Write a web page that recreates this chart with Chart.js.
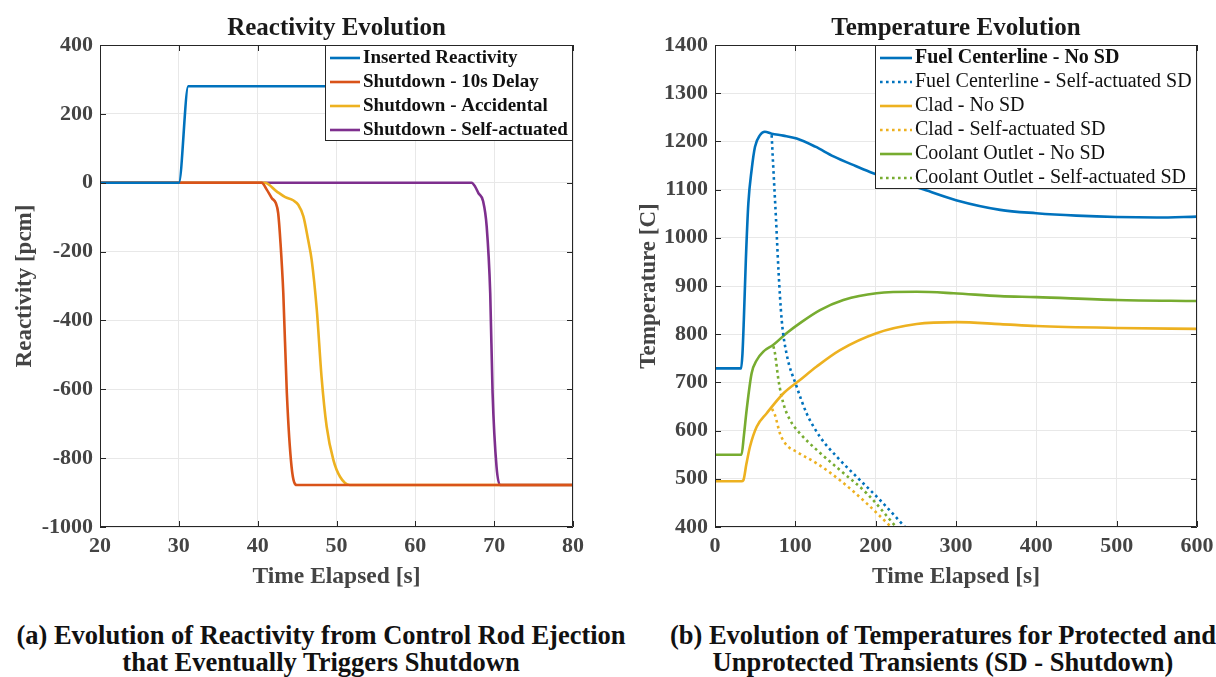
<!DOCTYPE html>
<html>
<head>
<meta charset="utf-8">
<script src="https://cdn.jsdelivr.net/npm/chart.js@4.4.0/dist/chart.umd.min.js"></script>
<style>
  body { margin: 0; width: 1216px; height: 677px; overflow: hidden; background: #fff; position: relative; font-family: "Liberation Serif", serif; }
  #reactivity { position: absolute; left: 0; top: 0; }
  #temperature { position: absolute; left: 608px; top: 0; }
  .caption { position: absolute; font-weight: bold; font-size: 26.5px; line-height: 27px; color: #111; text-align: center; white-space: nowrap; }
</style>
</head>
<body>
<canvas id="reactivity" width="608" height="597"></canvas>
<canvas id="temperature" width="608" height="597"></canvas>
<div class="caption" style="left:-79px; width:800px; top:622px">(a) Evolution of Reactivity from Control Rod Ejection<br>that Eventually Triggers Shutdown</div>
<div class="caption" style="left:543px; width:800px; top:622px">(b) Evolution of Temperatures for Protected and<br>Unprotected Transients (SD - Shutdown)</div>
<script>
// --- reactivity plot (a) ---
const insertedTime = [20, 30, 31.2, 80];
const insertedValue = [0, 0, 280, 280];
const delayTime = [20, 40.5, 41.15, 41.8, 42.3, 42.6, 42.9, 43.25, 43.7, 44.3, 44.95, 80];
const delayValue = [0, 0, -20, -45, -59, -88, -176, -320, -611, -825, -878, -878];
const accidentalTime = [20, 40.9, 42.4, 43.5, 44.5, 45.15, 45.8, 46.4, 46.85, 47.5, 48.1, 48.75, 49.6, 50.45, 51.7, 80];
const accidentalValue = [0, 0, -25, -42, -51, -64, -98, -166, -224, -369, -563, -708, -805, -854, -878, -878];
const selfTime = [20, 67.15, 67.6, 68.0, 68.6, 69.05, 69.5, 69.8, 70.3, 70.75, 80];
const selfValue = [0, 0, -12, -30, -54, -127, -321, -611, -825, -878, -878];
const reactivityTicks = [-1000, -800, -600, -400, -200, 0, 200, 400];

// --- temperature plot (b) ---
const fuelTime = [0, 32.5, 34.2, 35.9, 38.4, 41.5, 45.6, 49.8, 56, 62, 70.5, 85, 101.7, 125, 147.5, 175, 197, 230, 260, 300, 355, 400, 450, 500, 550, 600];
const fuelValue = [729, 729, 760, 830, 954, 1071, 1141, 1189, 1213, 1220, 1216, 1212, 1206, 1189, 1169, 1149, 1134, 1116, 1100, 1078, 1058, 1051, 1046, 1043, 1042, 1044];
const fuelSdTime = [70.5, 72.7, 76, 79, 83, 89, 101.7, 114, 130.7, 151.5, 176.4, 205.4, 236.5];
const fuelSdValue = [1213, 1141, 1037, 933, 830, 760, 691, 636, 587, 546, 504, 456, 400];
const cladTime = [0, 33, 35.3, 39, 43.6, 51.9, 64.4, 85, 105.8, 126.6, 155.6, 201, 251, 301, 355, 400, 500, 600];
const cladValue = [495, 495, 497, 530, 567, 608, 636, 677, 705, 733, 767, 802, 821, 825, 821, 817, 813, 811];
const cladSdTime = [71, 74.7, 80.9, 89, 101.7, 126.6, 155.6, 188.8, 218.6];
const cladSdValue = [645, 632, 594, 570, 556, 532, 497, 449, 401];
const coolantTime = [0, 33, 36, 39.4, 45.6, 51.9, 60.2, 72.7, 89, 105.8, 130.7, 159.8, 201, 251, 297, 355, 400, 500, 600];
const coolantValue = [550, 550, 590, 643, 719, 746, 764, 778, 802, 823, 850, 871, 885, 888, 885, 879, 877, 871, 869];
const coolantSdTime = [72.7, 74.7, 79, 85, 93.4, 105.8, 126.6, 155.6, 188.8, 225];
const coolantSdValue = [775, 760, 705, 657, 622, 594, 560, 518, 470, 401];

const BLUE = '#0072BD', ORANGE = '#D95319', YELLOW = '#EDB120', PURPLE = '#7E2F8E', GREEN = '#77AC30';
const AXIS = '#262626', TEXT = '#444';
const FONT = '"Liberation Serif", "Times New Roman", serif';

function pts(t, v) { return t.map((x, i) => ({x: x, y: v[i]})); }

function series(label, t, v, color, dotted) {
  return {
    label: label, data: pts(t, v), borderColor: color, backgroundColor: color,
    borderWidth: 2.6, pointRadius: 0, cubicInterpolationMode: 'monotone',
    borderDash: dotted ? [2.6, 3.4] : [], dotted: !!dotted
  };
}

// draws the boxed axes with inward ticks and the legend inside the top right corner
const framePlugin = {
  id: 'frame',
  afterDatasetsDraw(chart, args, opts) {
    const {ctx, chartArea: a, scales: {x, y}} = chart;
    ctx.save();
    ctx.strokeStyle = AXIS;
    ctx.lineWidth = 1;
    ctx.beginPath();
    ctx.rect(a.left + 0.5, a.top + 0.5, a.right - a.left - 1, a.bottom - a.top - 1);
    x.ticks.forEach(tk => {
      const px = Math.round(x.getPixelForValue(tk.value)) + 0.5;
      ctx.moveTo(px, a.bottom); ctx.lineTo(px, a.bottom - 6);
      ctx.moveTo(px, a.top); ctx.lineTo(px, a.top + 6);
    });
    y.ticks.forEach(tk => {
      const py = Math.round(y.getPixelForValue(tk.value)) + 0.5;
      ctx.moveTo(a.left, py); ctx.lineTo(a.left + 6, py);
      ctx.moveTo(a.right, py); ctx.lineTo(a.right - 6, py);
    });
    ctx.stroke();

    // legend
    const sets = chart.data.datasets;
    const rowH = 24;
    const bx = a.right - opts.width, by = a.top;
    const bh = sets.length * rowH;
    ctx.fillStyle = '#fff';
    ctx.fillRect(bx, by, opts.width, bh);
    ctx.strokeStyle = AXIS;
    ctx.strokeRect(bx + 0.5, by + 0.5, opts.width - 1, bh - 1);
    ctx.textBaseline = 'middle';
    sets.forEach((ds, i) => {
      const cy = by + rowH / 2 + i * rowH + 1;
      ctx.strokeStyle = ds.borderColor;
      ctx.lineWidth = 2.6;
      ctx.setLineDash(ds.dotted ? [2.6, 3.4] : []);
      ctx.beginPath();
      ctx.moveTo(bx + 5, cy); ctx.lineTo(bx + 5 + opts.sample, cy);
      ctx.stroke();
      ctx.setLineDash([]);
      ctx.fillStyle = '#111';
      ctx.font = ((opts.bold || []).includes(i) ? 'bold ' : '') + opts.fontSize + 'px ' + FONT;
      ctx.fillText(ds.label, bx + 8 + opts.sample, cy);
    });
    ctx.restore();
  }
};

function makeOptions(cfg) {
  return {
    responsive: false, animation: false, devicePixelRatio: 1,
    layout: {padding: {left: 0, right: cfg.padRight, top: 0, bottom: 0}},
    plugins: {
      legend: {display: false},
      tooltip: {enabled: false},
      title: {display: true, fullSize: false, text: cfg.title, color: '#1a1a1a', font: {family: FONT, size: 25, weight: 'bold'}, padding: {top: 14, bottom: 1}},
      frame: cfg.legend
    },
    scales: {
      x: {
        type: 'linear', min: cfg.xMin, max: cfg.xMax,
        ticks: {stepSize: cfg.xStep, color: TEXT, padding: 6, font: {family: FONT, size: 22, weight: 'bold'}, callback: v => String(v)},
        grid: {color: '#e8e8e8', drawTicks: false},
        border: {display: false},
        title: {display: true, text: 'Time Elapsed [s]', color: TEXT, font: {family: FONT, size: 23.5, weight: 'bold'}, padding: {top: 0, bottom: 6}},
        afterFit: s => { s.height = 70; s.paddingLeft = 0; s.paddingRight = 0; }
      },
      y: {
        type: 'linear', min: cfg.yMin, max: cfg.yMax,
        afterBuildTicks: cfg.yTicks ? (s => { s.ticks = cfg.yTicks.map(v => ({value: v})); }) : undefined,
        ticks: {stepSize: cfg.yStep, color: TEXT, padding: 7, font: {family: FONT, size: 22, weight: 'bold'}, callback: v => String(v)},
        grid: {color: '#e8e8e8', drawTicks: false},
        border: {display: false},
        title: {display: true, text: cfg.yTitle, color: TEXT, font: {family: FONT, size: 23, weight: 'bold'}, padding: {top: cfg.yTitlePad, bottom: 0}},
        afterFit: s => { s.width = cfg.yWidth; }
      }
    }
  };
}

new Chart(document.getElementById('reactivity'), {
  type: 'line',
  data: {datasets: [
    series('Inserted Reactivity', insertedTime, insertedValue, BLUE),
    series('Shutdown - 10s Delay', delayTime, delayValue, ORANGE),
    series('Shutdown - Accidental', accidentalTime, accidentalValue, YELLOW),
    series('Shutdown - Self-actuated', selfTime, selfValue, PURPLE)
  ]},
  options: makeOptions({
    title: 'Reactivity Evolution', padRight: 35,
    xMin: 20, xMax: 80, xStep: 10, yMin: -1000, yMax: 400, yStep: 200, yTicks: reactivityTicks,
    yTitle: 'Reactivity [pcm]', yTitlePad: 11, yWidth: 100,
    legend: {width: 248, sample: 30, fontSize: 19, bold: [0, 1, 2, 3]}
  }),
  plugins: [framePlugin]
});

new Chart(document.getElementById('temperature'), {
  type: 'line',
  data: {datasets: [
    series('Fuel Centerline - No SD', fuelTime, fuelValue, BLUE),
    series('Fuel Centerline - Self-actuated SD', fuelSdTime, fuelSdValue, BLUE, true),
    series('Clad - No SD', cladTime, cladValue, YELLOW),
    series('Clad - Self-actuated SD', cladSdTime, cladSdValue, YELLOW, true),
    series('Coolant Outlet - No SD', coolantTime, coolantValue, GREEN),
    series('Coolant Outlet - Self-actuated SD', coolantSdTime, coolantSdValue, GREEN, true)
  ]},
  options: makeOptions({
    title: 'Temperature Evolution', padRight: 19,
    xMin: 0, xMax: 600, xStep: 100, yMin: 400, yMax: 1400, yStep: 100,
    yTitle: 'Temperature [C]', yTitlePad: 27, yWidth: 107,
    legend: {width: 322, sample: 32, fontSize: 20, bold: [0]}
  }),
  plugins: [framePlugin]
});
</script>
</body>
</html>
